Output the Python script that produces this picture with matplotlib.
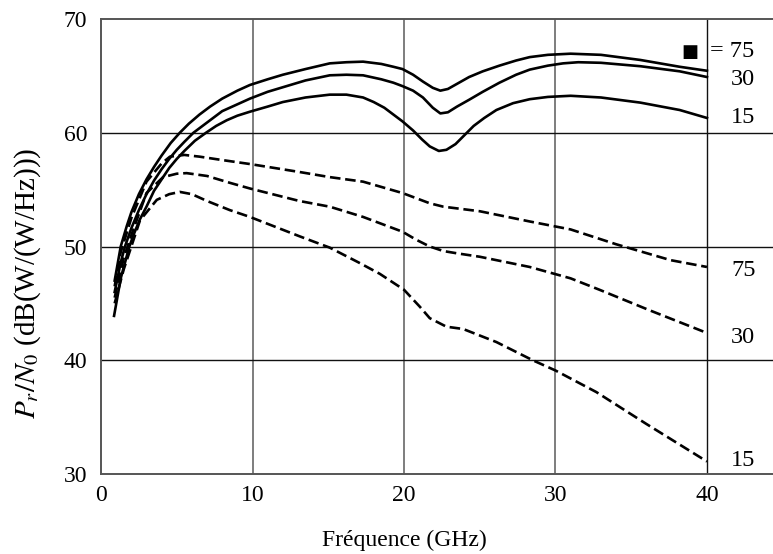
import matplotlib
matplotlib.use("Agg")
import matplotlib.pyplot as plt

plt.rcParams["font.family"] = ["Liberation Serif", "DejaVu Sans"]
plt.rcParams["mathtext.fontset"] = "stix"

# Solid curves (upper family), label values 75 / 30 / 15
freq_s75 = [0.9, 1.3, 1.7, 2, 2.5, 3, 3.5, 4, 4.6, 5.2, 5.8, 6.5, 7.2, 8, 9, 9.83, 11, 12,
            13.5, 15.1, 16.2, 17.3, 18.5, 19.3, 19.9, 20.6, 21.25, 21.9, 22.4, 22.9, 23.5,
            24.3, 25.2, 26.3, 27.4, 28.3, 29.5, 31, 33, 35.6, 38.2, 40]
pr_s75 = [47.0, 50.0, 51.8, 53.0, 54.6, 55.9, 57.0, 58.0, 59.1, 60.0, 60.8, 61.6, 62.3, 63.0,
          63.7, 64.2, 64.7, 65.1, 65.6, 66.1, 66.2, 66.25, 66.05, 65.8, 65.6, 65.1, 64.5, 63.95,
          63.7, 63.85, 64.3, 64.9, 65.4, 65.9, 66.35, 66.65, 66.85, 66.95, 66.85, 66.4, 65.8,
          65.45]

freq_s30 = [0.9, 1.3, 1.58, 2, 2.5, 3, 3.5, 4, 4.5, 5, 5.5, 6.1, 7, 8, 9, 9.83, 11, 12, 13.5,
            15.1, 16.2, 17.3, 18.5, 19.3, 19.9, 20.6, 21.25, 21.9, 22.4, 22.9, 23.5, 24.3,
            25.2, 26.3, 27.4, 28.3, 29.5, 30.5, 31.5, 33, 35.6, 38.2, 40]
pr_s30 = [46.0, 48.6, 50.0, 51.6, 53.2, 54.6, 55.8, 56.8, 57.7, 58.5, 59.2, 60.0, 60.9, 61.9,
          62.5, 63.0, 63.6, 64.0, 64.6, 65.05, 65.1, 65.05, 64.7, 64.4, 64.1, 63.7, 63.1, 62.2,
          61.7, 61.8, 62.3, 62.9, 63.6, 64.4, 65.1, 65.55, 65.9, 66.1, 66.2, 66.15, 65.85, 65.4,
          64.9]

freq_s15 = [0.86, 1.3, 1.87, 2.2, 2.57, 3, 3.5, 4, 4.5, 5, 5.5, 6.2, 6.93, 7.6, 8.3, 9, 9.83,
            11, 12, 13.5, 15.1, 16.2, 17.3, 18, 18.7, 19.3, 19.9, 20.6, 21.2, 21.7, 22.3, 22.8,
            23.4, 24.0, 24.6, 25.3, 26.1, 27.2, 28.3, 29.5, 31, 33, 35.6, 38.2, 40]
pr_s15 = [43.9, 47.2, 50.0, 51.2, 52.4, 53.5, 54.9, 55.9, 56.9, 57.7, 58.4, 59.3, 60.0, 60.6,
          61.1, 61.5, 61.85, 62.3, 62.7, 63.1, 63.35, 63.35, 63.1, 62.7, 62.2, 61.6, 61.0, 60.2,
          59.4, 58.8, 58.4, 58.5, 59.0, 59.8, 60.6, 61.3, 62.0, 62.6, 62.95, 63.15, 63.25, 63.1,
          62.65, 62.0, 61.3]

# Dashed curves (lower family)
freq_d75 = [0.9, 1.3, 2, 3, 4, 4.55, 5.5, 6.5, 8, 9.83, 13.1, 15.1, 17.3, 19.9, 20.7,
            21.7, 22.6, 23.5, 25, 28.3, 31, 34, 37.6, 40]
pr_d75 = [46.5, 49.5, 52.5, 55.7, 57.3, 57.9, 58.05, 57.9, 57.6, 57.25, 56.55, 56.1, 55.7, 54.7,
          54.3, 53.8, 53.5, 53.35, 53.1, 52.2, 51.5, 50.2, 48.8, 48.2]

freq_d30 = [0.9, 1.5, 2, 3, 4.1, 5, 5.65, 7, 8.5, 9.83, 13.1, 15.1, 17.3, 19.9, 20.8,
            21.7, 22.6, 23.5, 25, 28.3, 31, 32.9, 36.2, 40]
pr_d30 = [45.5, 49.0, 51.0, 54.7, 56.1, 56.4, 56.45, 56.2, 55.6, 55.1, 54.0, 53.5, 52.6, 51.3,
          50.6, 50.0, 49.6, 49.4, 49.1, 48.2, 47.2, 46.2, 44.4, 42.4]

freq_d15 = [0.9, 1.5, 2, 2.57, 3.68, 4.5, 5.2, 6, 7, 8.5, 9.83, 13.1, 15.1, 17, 18.4, 20,
            21.05, 21.7, 22.8, 23.9, 26.1, 28.5, 30, 32.7, 36, 40]
pr_d15 = [45.0, 48.0, 50.0, 52.3, 54.1, 54.6, 54.8, 54.6, 54.0, 53.2, 52.6, 50.9, 49.9, 48.6,
          47.6, 46.2, 44.7, 43.7, 42.95, 42.75, 41.6, 40.0, 39.1, 37.2, 34.4, 31.1]

x_ticks = [0, 10, 20, 30, 40]
y_ticks = [30, 40, 50, 60, 70]

fig = plt.figure(figsize=(7.73, 5.54), dpi=100)
ax = fig.add_axes([0.1307, 0.1444, 0.8693, 0.8213])

# grid
for xv in [10, 20, 30]:
    ax.axvline(xv, color="#5a5a5a", lw=1.1, zorder=1)
ax.axvline(40, color="#111111", lw=1.0, zorder=1)
for yv in [40, 50, 60]:
    ax.axhline(yv, color="#111111", lw=1.0, zorder=1)

lw = 1.9
dash = (0, (4, 1.8))
ax.plot(freq_s75, pr_s75, color="black", lw=lw, zorder=3)
ax.plot(freq_s30, pr_s30, color="black", lw=lw, zorder=3)
ax.plot(freq_s15, pr_s15, color="black", lw=lw, zorder=3)
ax.plot(freq_d75, pr_d75, color="black", lw=lw, ls=dash, zorder=3)
ax.plot(freq_d30, pr_d30, color="black", lw=lw, ls=dash, zorder=3)
ax.plot(freq_d15, pr_d15, color="black", lw=lw, ls=dash, zorder=3)

ax.set_xlim(0, 44.36)
ax.set_ylim(30, 70)
ax.set_xticks(x_ticks)
ax.set_yticks(y_ticks)
ax.tick_params(length=0, labelsize=17, pad=8, colors="black")
ax.tick_params(axis="y", pad=10)

for side in ["left", "bottom", "top"]:
    ax.spines[side].set_color("#555555")
    ax.spines[side].set_linewidth(1.4)
ax.spines["right"].set_visible(False)

# curve labels
fs = 17.5
ax.text(38.9, 67.1, "\u25a0", family="DejaVu Sans", fontsize=13, ha="center", va="center")
ax.text(40.2, 67.1, "= 75", fontsize=fs, ha="left", va="center")
ax.text(41.6, 64.64, "30", fontsize=fs, ha="left", va="center")
ax.text(41.6, 61.3, "15", fontsize=fs, ha="left", va="center")
ax.text(41.6, 47.93, "75", fontsize=fs, ha="left", va="center")
ax.text(41.6, 42.04, "30", fontsize=fs, ha="left", va="center")
ax.text(41.6, 31.23, "15", fontsize=fs, ha="left", va="center")

ax.text(20 / 44.36, -0.147, "Fréquence (GHz)", fontsize=17, ha="center", va="center",
        transform=ax.transAxes)
ax.text(-0.1086, 0.42, r"$P_r/N_0$ (dB(W/(W/Hz)))", fontsize=21, rotation=90,
        ha="center", va="center", transform=ax.transAxes)

fig.savefig("out.png", dpi=100)
